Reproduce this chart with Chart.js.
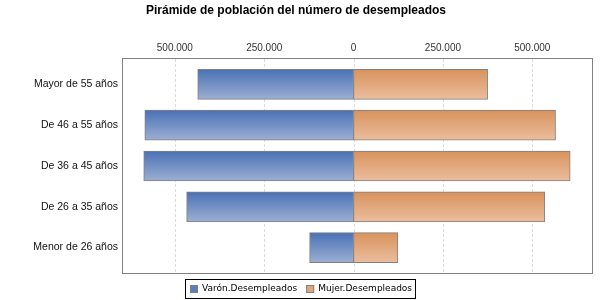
<!DOCTYPE html>
<html><head><meta charset="utf-8">
<script src="https://cdn.jsdelivr.net/npm/chart.js@4/dist/chart.umd.min.js"></script>
<style>html,body{margin:0;padding:0;background:#fff}</style>
</head><body>
<canvas id="c" width="600" height="300" style="width:600px;height:300px;display:block"></canvas>
<script>
const categories = ['Mayor de 55 años', 'De 46 a 55 años', 'De 36 a 45 años', 'De 26 a 35 años', 'Menor de 26 años'];
const varonDesempleados = [-436000, -584000, -587000, -467000, -123000];
const mujerDesempleados = [375000, 565000, 606000, 535000, 124000];
const seriesNames = ['Varón.Desempleados', 'Mujer.Desempleados'];
const xTickValues = [-500000, -250000, 0, 250000, 500000];
const chartTitle = 'Pirámide de población del número de desempleados';

const fmt = v => Math.abs(v).toString().replace(/\B(?=(\d{3})+(?!\d))/g, '.');
const BAR = 30;
function grad(top, bottom) {
  return ctx => {
    const ch = ctx.chart, ys = ch.scales && ch.scales.y;
    if (!ys || ctx.dataIndex === undefined || !ch.chartArea) return top;
    const c = ys.getPixelForValue(ctx.dataIndex);
    const g = ch.ctx.createLinearGradient(0, c - BAR / 2, 0, c + BAR / 2);
    g.addColorStop(0, top); g.addColorStop(1, bottom);
    return g;
  };
}
const EXT = 5;
const framePlugin = {
  id: 'frame',
  beforeDatasetsDraw(chart) {
    const { ctx, chartArea: a, scales: { x } } = chart;
    const top = a.top - EXT, bottom = a.bottom + EXT;
    ctx.save();
    ctx.strokeStyle = '#dcdcdc'; ctx.lineWidth = 1; ctx.setLineDash([3, 2]);
    x.ticks.forEach(t => {
      const px = Math.round(x.getPixelForValue(t.value)) + 0.5;
      ctx.beginPath(); ctx.moveTo(px, top); ctx.lineTo(px, bottom); ctx.stroke();
    });
    ctx.setLineDash([]);
    ctx.strokeStyle = '#808080';
    ctx.strokeRect(Math.round(a.left) - 0.5, Math.round(top) - 0.5, Math.round(a.right - a.left) + 1, Math.round(bottom - top) + 1);
    ctx.restore();
  },
  afterDraw(chart) {
    const ctx = chart.ctx;
    ctx.save();
    ctx.font = '9px "DejaVu Sans"';
    const cols = [['#5a7fc0', '#808080'], ['#e2a67c', '#808080']];
    const w = seriesNames.map(s => ctx.measureText(s).width);
    const pad = 4, sq = 8, gap = 4, between = 9;
    const total = pad + sq + gap + w[0] + between + sq + gap + w[1] + pad;
    const left = Math.round(300 - total / 2);
    const top = 279, h = 19;
    ctx.strokeStyle = '#000'; ctx.lineWidth = 1;
    ctx.strokeRect(left + 0.5, top + 0.5, Math.round(total), h);
    let x = left + pad + 1;
    const cy = top + h / 2 + 0.5;
    seriesNames.forEach((s, i) => {
      ctx.fillStyle = cols[i][0];
      ctx.fillRect(x, Math.round(cy - sq / 2), sq, sq);
      ctx.strokeStyle = cols[i][1];
      ctx.strokeRect(x + 0.5, Math.round(cy - sq / 2) + 0.5, sq - 1, sq - 1);
      x += sq + gap;
      ctx.fillStyle = '#000'; ctx.textBaseline = 'middle'; ctx.textAlign = 'left';
      ctx.fillText(s, x, cy);
      x += w[i] + between;
    });
    ctx.restore();
  }
};

new Chart(document.getElementById('c'), {
  type: 'bar',
  data: {
    labels: categories,
    datasets: [
      { label: seriesNames[0], data: varonDesempleados, backgroundColor: grad('#4a71b6', '#9cafd2') },
      { label: seriesNames[1], data: mujerDesempleados, backgroundColor: grad('#d8935c', '#ebbd9e') }
    ]
  },
  options: {
    indexAxis: 'y',
    responsive: false,
    devicePixelRatio: 1,
    animation: false,
    datasets: { bar: { barThickness: BAR, borderColor: '#808080', borderWidth: 1, borderSkipped: false } },
    layout: { padding: { top: 0, left: 0, right: 8, bottom: 32 } },
    plugins: {
      legend: { display: false },
      tooltip: { enabled: false },
      title: { display: true, text: chartTitle, color: '#000', font: { family: '"Liberation Sans", Arial', size: 12, weight: 'bold' }, padding: { top: 3, bottom: 0 } }
    },
    scales: {
      x: {
        position: 'top', stacked: true, min: -645000, max: 667000,
        afterBuildTicks: s => { s.ticks = xTickValues.map(v => ({ value: v })); },
        afterFit: s => { s.height = 46.6; },
        grid: { display: false, drawTicks: false },
        border: { display: false },
        ticks: { padding: 10, color: '#333', font: { family: '"Liberation Sans", Arial', size: 10 }, callback: v => fmt(v), maxRotation: 0 }
      },
      y: {
        stacked: true,
        afterFit: s => { s.width = 123; },
        grid: { display: false, drawTicks: false },
        border: { display: false },
        ticks: { padding: 5, color: '#111', font: { family: '"Liberation Sans", Arial', size: 10.5 } }
      }
    }
  },
  plugins: [framePlugin]
});
</script>
</body></html>
